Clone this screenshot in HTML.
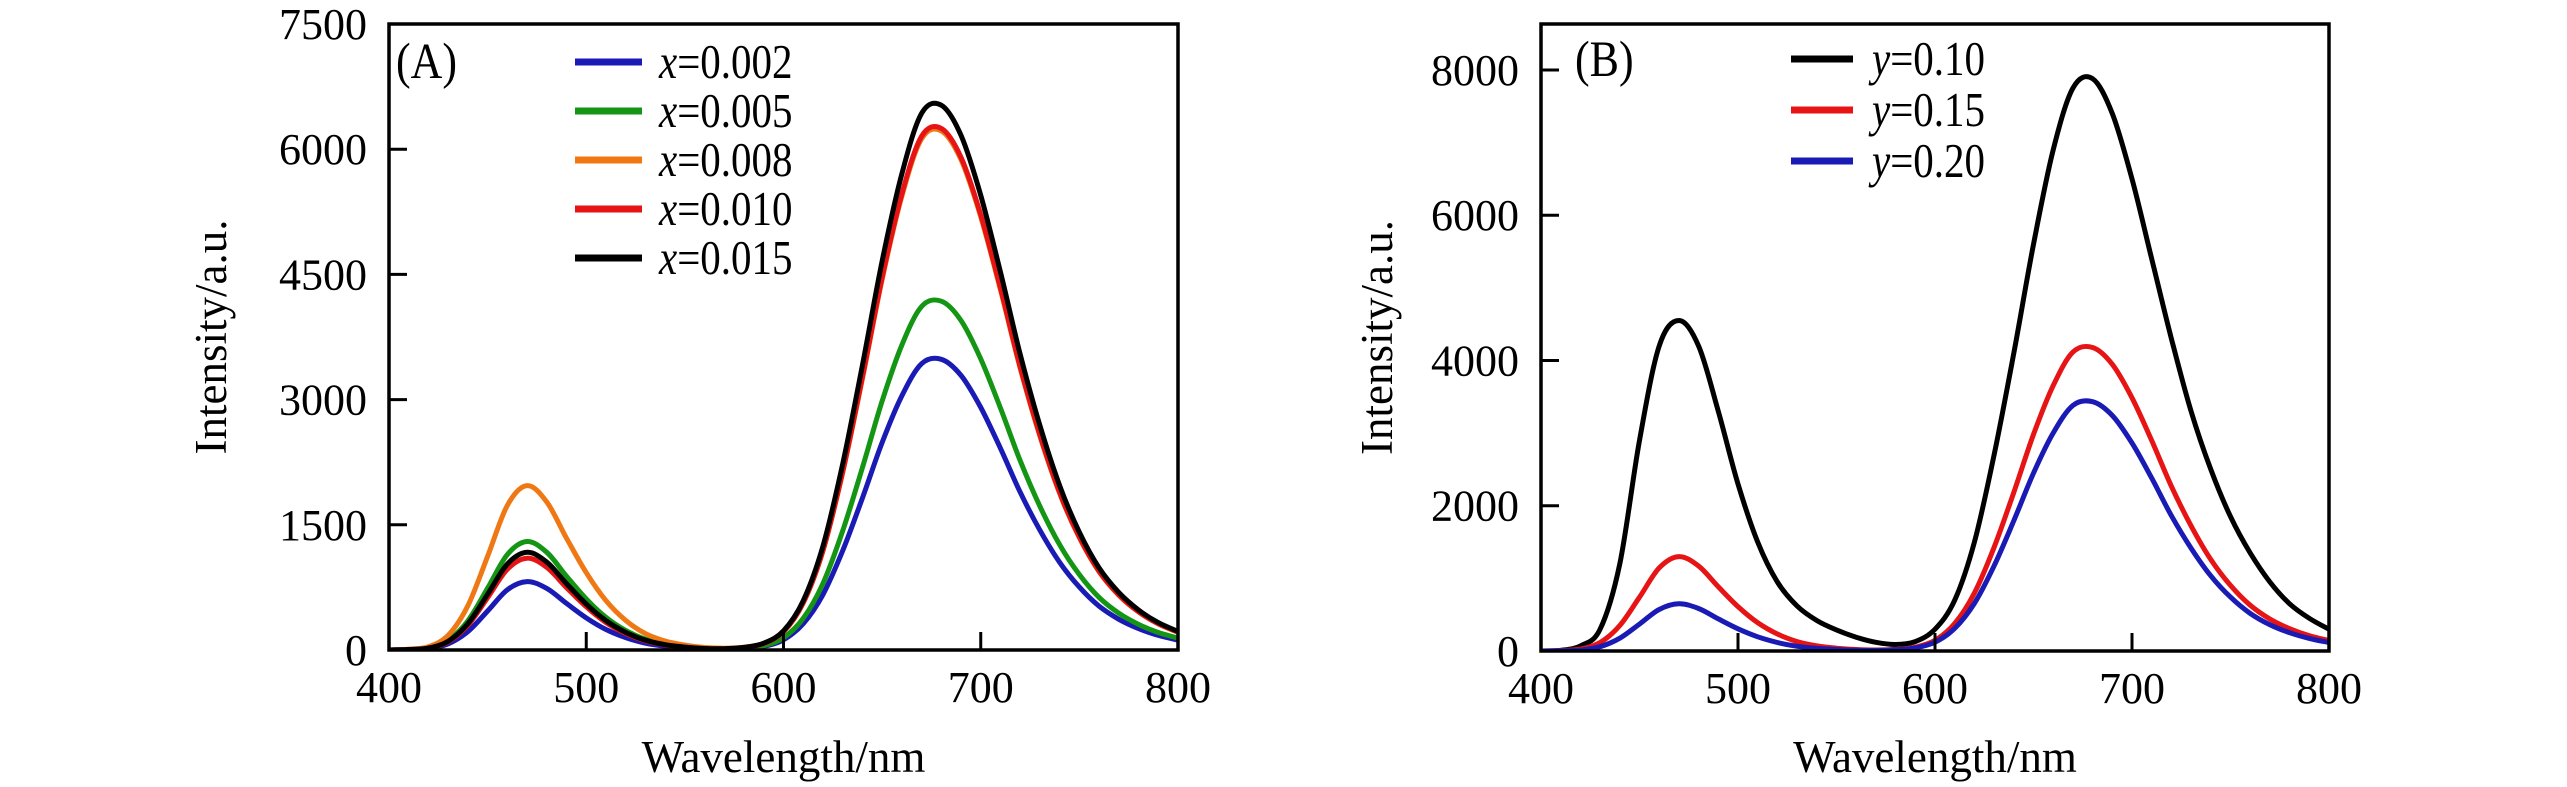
<!DOCTYPE html>
<html><head><meta charset="utf-8">
<style>
html,body{margin:0;padding:0;background:#fff;}
svg{display:block;font-family:"Liberation Serif",serif;}
</style></head>
<body>
<svg id="chart" width="2567" height="787" viewBox="0 0 2567 787" xmlns="http://www.w3.org/2000/svg"></svg>
<script>
const wavelengths = [400,410,420,430,440,450,460,470,480,490,500,510,520,530,540,550,560,570,580,590,600,610,620,630,640,650,660,670,680,690,700,710,720,730,740,750,760,770,780,790,800];
const xTicks = [400,500,600,700,800];
const yTicksA = [0,1500,3000,4500,6000,7500];
const yTicksB = [0,2000,4000,6000,8000];
const seriesANames = ["x=0.002","x=0.005","x=0.008","x=0.010","x=0.015"];
const seriesAColors = ["#1a1ab4","#149614","#f07814","#e61414","#000000"];
const a002 = [0,4,16,74,221,467,722,820,738,558,385,246,148,82,45,25,12,11,17,44,122,315,665,1190,1820,2485,3045,3430,3483,3290,2905,2415,1890,1435,1050,753,525,368,256,175,119];
const a005 = [0,7,26,117,351,741,1144,1300,1170,884,611,390,234,130,72,39,20,14,22,53,147,378,798,1428,2184,2982,3654,4116,4179,3948,3486,2898,2268,1722,1260,903,630,441,307,210,143];
const a008 = [0,10,39,177,532,1123,1734,1970,1773,1340,926,591,355,197,108,59,30,22,33,79,219,563,1188,2125,3250,4438,5438,6125,6219,5875,5188,4313,3375,2563,1875,1344,938,656,456,313,213];
const a010 = [0,6,22,99,297,627,968,1100,990,748,517,330,198,110,61,33,17,15,29,77,220,565,1193,2135,3266,4459,5464,6154,6249,5903,5212,4333,3391,2575,1884,1350,942,659,458,314,214];
const a015 = [0,6,23,105,316,667,1030,1170,1053,796,550,351,211,117,64,35,18,16,31,81,230,590,1246,2230,3411,4658,5707,6429,6527,6166,5445,4526,3542,2690,1968,1410,984,689,479,328,223];
const seriesBNames = ["y=0.10","y=0.15","y=0.20"];
const seriesBColors = ["#000000","#e61414","#1a1ab4"];
const b010 = [0,10,70,300,1200,2900,4200,4550,4200,3300,2300,1500,950,620,420,290,190,120,90,130,300,700,1500,2700,4100,5600,6900,7750,7880,7400,6500,5400,4300,3300,2500,1850,1350,950,650,450,300];
const b015 = [0,7,26,117,351,741,1144,1300,1170,884,611,390,234,130,72,39,20,14,22,53,147,378,798,1428,2184,2982,3654,4116,4179,3948,3486,2898,2268,1722,1260,903,630,441,307,210,143];
const b020 = [0,3,13,59,176,371,572,650,585,442,306,195,117,65,36,20,10,8,17,42,121,311,656,1173,1794,2450,3002,3381,3433,3243,2864,2381,1863,1415,1035,742,518,362,252,173,117];

const NS="http://www.w3.org/2000/svg";
const svg=document.getElementById('chart');
function mk(tag,attrs,parent){const e=document.createElementNS(NS,tag);for(const k in attrs)e.setAttribute(k,attrs[k]);(parent||svg).appendChild(e);return e;}

function smoothPath(pts){
  let d='M'+pts[0][0].toFixed(1)+','+pts[0][1].toFixed(1);
  for(let i=0;i<pts.length-1;i++){
    const p0=pts[Math.max(0,i-1)],p1=pts[i],p2=pts[i+1],p3=pts[Math.min(pts.length-1,i+2)];
    const c1x=p1[0]+(p2[0]-p0[0])/6,c1y=p1[1]+(p2[1]-p0[1])/6;
    const c2x=p2[0]-(p3[0]-p1[0])/6,c2y=p2[1]-(p3[1]-p1[1])/6;
    d+=' C'+c1x.toFixed(1)+','+c1y.toFixed(1)+' '+c2x.toFixed(1)+','+c2y.toFixed(1)+' '+p2[0].toFixed(1)+','+p2[1].toFixed(1);
  }
  return d;
}

function panel(cfg){
  const g=mk('g',{});
  
  
  const {L,R,T,B,ymax}=cfg;
  const xs=v=>L+(v-400)/400*(R-L);
  const ys=v=>B-v/ymax*(B-T);
  const clipId=cfg.name+'-clip';
  const cp=mk('clipPath',{id:clipId},g);
  mk('rect',{x:L,y:T,width:R-L,height:B-T},cp);
  const cg=mk('g',{'clip-path':'url(#'+clipId+')'},g);
  cfg.series.forEach((s,i)=>{
    const pts=wavelengths.map((w,j)=>[xs(w),ys(s[j])]);
    const p=mk('path',{d:smoothPath(pts),fill:'none',stroke:cfg.colors[i],'stroke-width':5,'stroke-linejoin':'round'},cg);
    
    
  });
  const frame=mk('rect',{x:L,y:T,width:R-L,height:B-T,fill:'none',stroke:'#000','stroke-width':3.5},g);
  
  
  xTicks.forEach(t=>{
    const x=xs(t);
    if(t>400&&t<800){const tk=mk('line',{x1:x,x2:x,y1:B,y2:B-18,stroke:'#000','stroke-width':3},g);
      }
    const tl=mk('text',{x:x,y:B+52,'font-size':44,'text-anchor':'middle'},g);
    tl.textContent=t;
    
    
  });
  cfg.yticks.forEach(t=>{
    const y=ys(t);
    if(t>0&&y>T+2){const tk=mk('line',{x1:L,x2:L+18,y1:y,y2:y,stroke:'#000','stroke-width':3},g);
      }
    const tl=mk('text',{x:L-22,y:y+15,'font-size':44,'text-anchor':'end'},g);
    tl.textContent=t;
    
    
  });
  const xt=mk('text',{x:(L+R)/2,y:772,'font-size':45,'text-anchor':'middle'},g);
  xt.textContent='Wavelength/nm';
  
  
  const yt=mk('text',{x:0,y:0,'font-size':45,'text-anchor':'middle',transform:'translate('+cfg.ytx+','+((T+B)/2)+') rotate(-90)'},g);
  yt.textContent='Intensity/a.u.';
  
  
  const pl=mk('text',{x:0,y:0,'font-size':44,transform:'translate('+cfg.tagX+','+cfg.tagY+') scale(1,1.15)'},g);
  pl.textContent=cfg.tag;
  
  
  cfg.labels.forEach((lab,i)=>{
    const y=cfg.legY0+i*cfg.legDy;
    const ln=mk('line',{x1:cfg.legX1,x2:cfg.legX2,y1:y,y2:y,stroke:cfg.colors[i],'stroke-width':7},g);
    
    
    const tx=mk('text',{x:0,y:0,'font-size':41,transform:'translate('+cfg.legTx+','+(y+16)+') scale(1,1.2)'},g);
    const v=mk('tspan',{'font-style':'italic'},tx);v.textContent=lab[0];
    const r=mk('tspan',{},tx);r.textContent=lab.slice(1);
    
    
  });
}

panel({name:'panel-a',L:389,R:1178,T:24,B:650,ymax:7500,yticks:yTicksA,series:[a002,a005,a008,a010,a015],
  colors:seriesAColors,labels:seriesANames,tag:'(A)',tagX:396,tagY:78,ytx:226,legX1:575,legX2:642,legTx:659,legY0:62,legDy:49});
panel({name:'panel-b',L:1541,R:2329,T:24,B:651,ymax:8633,yticks:yTicksB,series:[b010,b015,b020],
  colors:seriesBColors,labels:seriesBNames,tag:'(B)',tagX:1575,tagY:76,ytx:1392,legX1:1791,legX2:1853,legTx:1872,legY0:59,legDy:51});
</script>
</body></html>
